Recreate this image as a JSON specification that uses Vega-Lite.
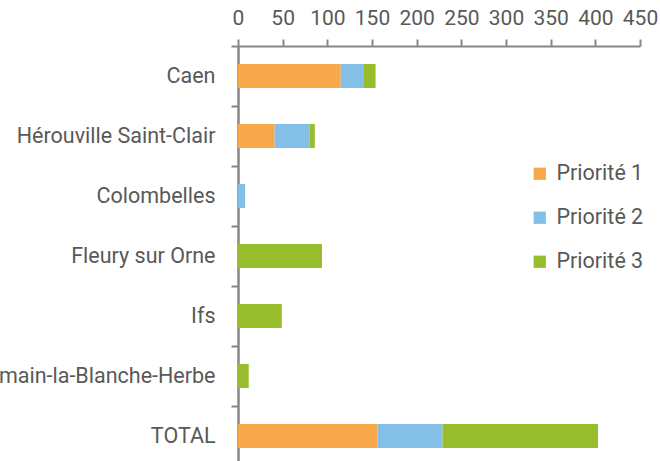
{
  "$schema": "https://vega.github.io/schema/vega-lite/v6.json",
  "autosize": {"type": "none"},
  "padding": {"left": 238, "top": 46, "right": 20, "bottom": 0},
  "width": 402,
  "height": 420,
  "background": "white",
  "config": {
    "view": {"stroke": null},
    "font": "Roboto, sans-serif"
  },
  "data": {
    "values": [
      {"commune": "Caen", "priorite": "Priorité 1", "valeur": 115},
      {"commune": "Caen", "priorite": "Priorité 2", "valeur": 26},
      {"commune": "Caen", "priorite": "Priorité 3", "valeur": 13},
      {"commune": "Hérouville Saint-Clair", "priorite": "Priorité 1", "valeur": 41},
      {"commune": "Hérouville Saint-Clair", "priorite": "Priorité 2", "valeur": 39},
      {"commune": "Hérouville Saint-Clair", "priorite": "Priorité 3", "valeur": 6},
      {"commune": "Colombelles", "priorite": "Priorité 1", "valeur": 0},
      {"commune": "Colombelles", "priorite": "Priorité 2", "valeur": 8},
      {"commune": "Colombelles", "priorite": "Priorité 3", "valeur": 0},
      {"commune": "Fleury sur Orne", "priorite": "Priorité 1", "valeur": 0},
      {"commune": "Fleury sur Orne", "priorite": "Priorité 2", "valeur": 0},
      {"commune": "Fleury sur Orne", "priorite": "Priorité 3", "valeur": 94},
      {"commune": "Ifs", "priorite": "Priorité 1", "valeur": 0},
      {"commune": "Ifs", "priorite": "Priorité 2", "valeur": 0},
      {"commune": "Ifs", "priorite": "Priorité 3", "valeur": 49},
      {"commune": "Saint-Germain-la-Blanche-Herbe", "priorite": "Priorité 1", "valeur": 0},
      {"commune": "Saint-Germain-la-Blanche-Herbe", "priorite": "Priorité 2", "valeur": 0},
      {"commune": "Saint-Germain-la-Blanche-Herbe", "priorite": "Priorité 3", "valeur": 12},
      {"commune": "TOTAL", "priorite": "Priorité 1", "valeur": 156},
      {"commune": "TOTAL", "priorite": "Priorité 2", "valeur": 73},
      {"commune": "TOTAL", "priorite": "Priorité 3", "valeur": 174}
    ]
  },
  "mark": {"type": "bar", "size": 24},
  "encoding": {
    "y": {
      "field": "commune",
      "type": "nominal",
      "sort": null,
      "scale": {"paddingInner": 0, "paddingOuter": 0},
      "axis": {
        "title": null,
        "orient": "left",
        "tickBand": "extent",
        "domainColor": "#878787",
        "domainWidth": 2.5,
        "tickColor": "#878787",
        "tickWidth": 2,
        "tickSize": 7,
        "labelPadding": 16,
        "labelFontSize": 21.5,
        "labelLimit": 0,
        "labelColor": "#595959"
      }
    },
    "x": {
      "field": "valeur",
      "type": "quantitative",
      "stack": "zero",
      "scale": {"domain": [0, 450], "nice": false},
      "axis": {
        "title": null,
        "orient": "top",
        "values": [0, 50, 100, 150, 200, 250, 300, 350, 400, 450],
        "grid": false,
        "domainColor": "#878787",
        "domainWidth": 2,
        "tickColor": "#878787",
        "tickWidth": 2,
        "tickSize": 7,
        "labelPadding": 11,
        "labelFontSize": 21,
        "labelColor": "#595959",
        "labelFlush": false
      }
    },
    "color": {
      "field": "priorite",
      "type": "nominal",
      "scale": {"domain": ["Priorité 1", "Priorité 2", "Priorité 3"], "range": ["#F7A84A", "#83BFE7", "#97BD2C"]},
      "legend": {
        "title": null,
        "orient": "none",
        "legendX": 291,
        "legendY": 117,
        "symbolType": "square",
        "symbolSize": 150,
        "symbolStrokeWidth": 0,
        "labelFontSize": 21.5,
        "labelColor": "#595959",
        "labelOffset": 6,
        "rowPadding": 21
      }
    }
  }
}
